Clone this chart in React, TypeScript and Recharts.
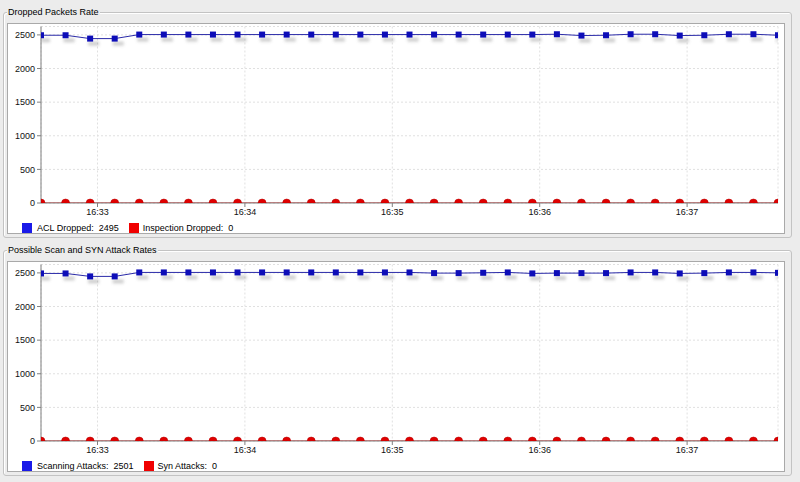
import React from "react";
import { LineChart, Line, XAxis, YAxis, CartesianGrid } from "recharts";

const TIMES = [
  "16:32:37", "16:32:47", "16:32:57", "16:33:07", "16:33:17", "16:33:27", "16:33:37", "16:33:47",
  "16:33:57", "16:34:07", "16:34:17", "16:34:27", "16:34:37", "16:34:47", "16:34:57", "16:35:07",
  "16:35:17", "16:35:27", "16:35:37", "16:35:47", "16:35:57", "16:36:07", "16:36:17", "16:36:27",
  "16:36:37", "16:36:47", "16:36:57", "16:37:07", "16:37:17", "16:37:27", "16:37:37",
];

const ACL_DROPPED = [
  2495, 2495, 2445, 2445, 2505, 2505, 2505, 2505, 2505, 2505, 2505, 2505, 2505, 2505, 2505, 2505,
  2505, 2505, 2505, 2505, 2505, 2510, 2490, 2495, 2510, 2510, 2490, 2495, 2510, 2510, 2495,
];
const INSPECTION_DROPPED = [
  0, 0, 0, 0, 0, 0, 0, 0, 0, 0, 0, 0, 0, 0, 0, 0, 0, 0, 0, 0, 0, 0, 0, 0, 0, 0, 0, 0, 0, 0, 0,
];
const SCANNING_ATTACKS = [
  2492, 2492, 2448, 2448, 2507, 2507, 2507, 2507, 2507, 2507, 2507, 2507, 2507, 2507, 2507, 2507,
  2497, 2497, 2502, 2507, 2492, 2497, 2497, 2497, 2507, 2507, 2492, 2497, 2507, 2507, 2501,
];
const SYN_ATTACKS = [
  0, 0, 0, 0, 0, 0, 0, 0, 0, 0, 0, 0, 0, 0, 0, 0, 0, 0, 0, 0, 0, 0, 0, 0, 0, 0, 0, 0, 0, 0, 0,
];

const X_TICK_LABELS = ["16:33", "16:34", "16:35", "16:36", "16:37"];
const Y_TICKS = [0, 500, 1000, 1500, 2000, 2500];
const Y_MAX = 2625;

const FONT = '"Liberation Sans", Arial, sans-serif';
const LAST = TIMES.length - 1;

// seconds since 16:32:00
const toSec = (s: string) => {
  const [h, m, sec] = s.split(":").map(Number);
  return (h - 16) * 3600 + (m - 32) * 60 + (sec || 0);
};
const fmtTick = (v: number) => {
  const m = 32 + Math.floor(v / 60);
  return `16:${String(m).padStart(2, "0")}`;
};
const X_TICKS = X_TICK_LABELS.map(toSec);
const X_DOMAIN = [toSec(TIMES[0]), toSec(TIMES[LAST])];

const buildData = (a: number[], b: number[]) =>
  TIMES.map((t, i) => ({ t: toSec(t), a: a[i], b: b[i] }));

const makeBlueSquare = (id: string) => (props: any) => {
  const { cx, cy, index } = props;
  if (cx == null || cy == null) return <g />;
  const h = 3;
  const left = index === 0 ? cx : cx - h;
  const right = index === LAST ? cx : cx + h;
  const sLeft = index === 0 ? cx : cx - 2;
  const sRight = index === LAST ? cx : cx + 9;
  return (
    <g>
      <rect
        x={sLeft}
        y={cy + 3}
        width={Math.max(0, sRight - sLeft)}
        height={4}
        fill="#8a8a8a"
        opacity={0.42}
        filter={`url(#blur-${id})`}
      />
      <rect x={left} y={cy - h} width={right - left} height={2 * h} fill="#0d0db8" />
    </g>
  );
};

const RedCircle = (props: any) => {
  const { cx, cy, index } = props;
  if (cx == null || cy == null) return <g />;
  const r = 4;
  let d: string;
  if (index === 0) {
    d = `M ${cx} ${cy} L ${cx + r} ${cy} A ${r} ${r} 0 0 0 ${cx} ${cy - r} Z`;
  } else if (index === LAST) {
    d = `M ${cx} ${cy} L ${cx} ${cy - r} A ${r} ${r} 0 0 0 ${cx - r} ${cy} Z`;
  } else {
    d = `M ${cx - r} ${cy} A ${r} ${r} 0 0 1 ${cx + r} ${cy} Z`;
  }
  return <path d={d} fill="#e00000" stroke="#b40000" strokeWidth={0.5} />;
};

type PanelProps = {
  dy: number;
  title: string;
  a: number[];
  b: number[];
  labelA: string;
  labelB: string;
  id: string;
};

const Panel = ({ dy, title, a, b, labelA, labelB, id }: PanelProps) => {
  const data = buildData(a, b);
  const lastA = a[a.length - 1];
  const lastB = b[b.length - 1];
  return (
    <div style={{ position: "absolute", left: 0, top: dy, width: 800, height: 240 }}>
      <div
        style={{
          position: "absolute",
          left: 3,
          top: 12,
          width: 787,
          height: 224,
          border: "1px solid #c3c3c3",
          borderRadius: 3,
          boxShadow: "inset 1px 1px 0 #fff",
        }}
      />
      <div
        style={{
          position: "absolute",
          left: 7,
          top: 6,
          padding: "0 1px",
          background: "#ececec",
          fontSize: 9,
          lineHeight: "12px",
          color: "#000",
          fontFamily: FONT,
        }}
      >
        {title}
      </div>
      <div
        style={{
          position: "absolute",
          left: 7,
          top: 23,
          width: 776,
          height: 209,
          background: "#fff",
          border: "1px solid #a9a9a9",
        }}
      />
      <div style={{ position: "absolute", left: 0, top: 0 }}>
        <LineChart
          width={800}
          height={240}
          data={data}
          margin={{ top: 26.5, right: 22, bottom: 17, left: 0 }}
        >
          <defs>
            <filter id={`blur-${id}`} x="-100%" y="-150%" width="300%" height="400%">
              <feGaussianBlur stdDeviation="1.6" />
            </filter>
          </defs>
          <CartesianGrid stroke="#e0e0e0" strokeDasharray="2 2" />
          <XAxis
            dataKey="t"
            type="number"
            domain={X_DOMAIN}
            ticks={X_TICKS}
            tickFormatter={fmtTick}
            allowDataOverflow
            height={20}
            tickSize={4}
            tickMargin={2}
            stroke="#808080"
            tick={{ fontSize: 9, fill: "#111", fontFamily: FONT }}
          />
          <YAxis
            type="number"
            domain={[0, Y_MAX]}
            ticks={Y_TICKS}
            allowDataOverflow
            width={41}
            tickSize={4}
            tickMargin={2}
            stroke="#808080"
            tick={{ fontSize: 9, fill: "#111", fontFamily: FONT }}
          />
          <Line
            dataKey="b"
            stroke="#e00000"
            strokeWidth={1}
            dot={RedCircle}
            isAnimationActive={false}
          />
          <Line
            dataKey="a"
            stroke="#2a2aa8"
            strokeWidth={1}
            dot={makeBlueSquare(id)}
            isAnimationActive={false}
          />
        </LineChart>
      </div>
      <div
        style={{
          position: "absolute",
          left: 22,
          top: 222,
          height: 12,
          display: "flex",
          alignItems: "center",
          fontSize: 9,
          fontFamily: FONT,
          color: "#000",
          whiteSpace: "pre",
        }}
      >
        <span style={{ width: 10, height: 10, background: "#1a1ae8", marginRight: 5 }} />
        <span style={{ marginRight: 10 }}>{`${labelA}:  ${lastA}`}</span>
        <span style={{ width: 10, height: 10, background: "#f00000", marginRight: 4 }} />
        <span>{`${labelB}:  ${lastB}`}</span>
      </div>
    </div>
  );
};

export default function App() {
  return (
    <div
      style={{
        position: "absolute",
        left: 0,
        top: 0,
        width: 800,
        height: 482,
        background: "#ececec",
        overflow: "hidden",
        fontFamily: FONT,
      }}
    >
      <Panel
        dy={0}
        id="p1"
        title="Dropped Packets Rate"
        a={ACL_DROPPED}
        b={INSPECTION_DROPPED}
        labelA="ACL Dropped"
        labelB="Inspection Dropped"
      />
      <Panel
        dy={238}
        id="p2"
        title="Possible Scan and SYN Attack Rates"
        a={SCANNING_ATTACKS}
        b={SYN_ATTACKS}
        labelA="Scanning Attacks"
        labelB="Syn Attacks"
      />
    </div>
  );
}
